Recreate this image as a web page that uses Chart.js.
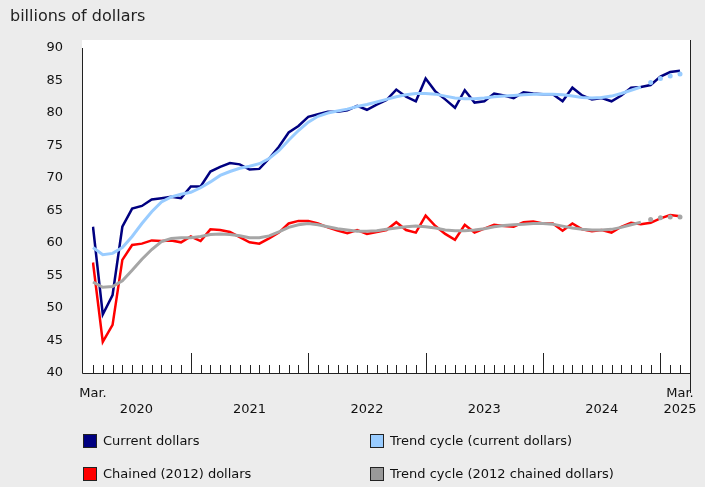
<!DOCTYPE html>
<html><head><meta charset="utf-8">
<script src="https://cdn.jsdelivr.net/npm/chart.js@4"></script>
<style>
html,body{margin:0;padding:0;background:#ececec;font-family:Verdana,"DejaVu Sans",sans-serif;}
#wrap{position:relative;width:705px;height:487px;}
canvas{position:absolute;left:0;top:0;}
.title{position:absolute;left:10px;top:6px;font-size:16px;color:#222;}
.lg{position:absolute;font-size:13px;color:#111;display:flex;align-items:center;}
.lg span.sw{display:inline-block;width:12px;height:12px;border:1px solid #222;margin-right:6px;}
</style></head><body>
<div id="wrap">
<canvas id="c" width="705" height="487"></canvas>
<div class="title">billions of dollars</div>
<div class="lg" style="left:83px;top:433px"><span class="sw" style="background:#000080"></span>Current dollars</div>
<div class="lg" style="left:370px;top:433px"><span class="sw" style="background:#99ccff"></span>Trend cycle (current dollars)</div>
<div class="lg" style="left:83px;top:466px"><span class="sw" style="background:#ff0000"></span>Chained (2012) dollars</div>
<div class="lg" style="left:370px;top:466px"><span class="sw" style="background:#999999"></span>Trend cycle (2012 chained dollars)</div>
</div>
<script>
const months = [];
for (let i = 0; i < 61; i++) { const m = (2 + i) % 12, y = 2020 + Math.floor((2 + i) / 12); months.push(y + '-' + String(m + 1).padStart(2, '0')); }
const yearLabels = ['2020','2021','2022','2023','2024','2025'];
const yTicks = [40,45,50,55,60,65,70,75,80,85,90];
const currentDollars = [62.5,49,52,62.5,65.3,65.7,66.7,66.9,67.1,66.9,68.7,68.7,71.0,71.7,72.3,72.1,71.3,71.4,73.0,74.8,77.0,78.0,79.4,79.8,80.2,80.2,80.4,81.1,80.5,81.3,82.0,83.6,82.5,81.8,85.3,83.3,82.1,80.8,83.5,81.6,81.8,83.0,82.7,82.3,83.2,83.0,82.9,82.9,81.8,83.9,82.7,82.1,82.3,81.8,82.7,83.9,84.0,84.3,85.6,86.3,86.5];
const trendCurrent = [59.3,58.2,58.4,59.3,61.0,63.0,64.8,66.3,67.1,67.5,67.8,68.5,69.4,70.4,71.0,71.5,71.8,72.2,73.0,74.2,75.8,77.3,78.6,79.5,80.0,80.3,80.6,81.0,81.3,81.7,82.1,82.5,82.8,83.0,83.0,82.9,82.6,82.3,82.2,82.2,82.3,82.5,82.6,82.7,82.8,82.9,82.9,82.9,82.8,82.6,82.4,82.3,82.4,82.6,83.0,83.5,84.0,null,null,null,null];
const trendCurrentProv = [null,null,null,null,null,null,null,null,null,null,null,null,null,null,null,null,null,null,null,null,null,null,null,null,null,null,null,null,null,null,null,null,null,null,null,null,null,null,null,null,null,null,null,null,null,null,null,null,null,null,null,null,null,null,null,null,null,84.7,85.3,85.7,86.0];
const chained = [57,44.8,47.4,57.4,59.7,59.9,60.4,60.3,60.4,60.1,61.0,60.3,62.1,62.0,61.7,60.9,60.1,59.9,60.7,61.6,63.0,63.4,63.4,63.0,62.4,61.9,61.5,62.0,61.4,61.7,62.0,63.2,62.0,61.6,64.2,62.6,61.4,60.5,62.8,61.6,62.2,62.8,62.6,62.5,63.2,63.3,63.0,63.0,61.9,63.0,62.1,61.8,62.0,61.6,62.5,63.1,62.9,63.1,63.8,64.3,64.1];
const trendChained = [54.0,53.2,53.3,54.2,55.8,57.5,59.0,60.2,60.7,60.8,60.8,61.0,61.3,61.4,61.3,61.1,60.8,60.8,61.1,61.7,62.4,62.8,63.0,62.8,62.5,62.2,62.0,61.8,61.8,61.9,62.1,62.3,62.5,62.6,62.5,62.3,62.0,61.9,61.9,62.0,62.2,62.5,62.7,62.8,62.9,63.0,63.0,62.9,62.6,62.3,62.1,62.0,62.0,62.1,62.4,62.8,63.2,null,null,null,null];
const trendChainedProv = [null,null,null,null,null,null,null,null,null,null,null,null,null,null,null,null,null,null,null,null,null,null,null,null,null,null,null,null,null,null,null,null,null,null,null,null,null,null,null,null,null,null,null,null,null,null,null,null,null,null,null,null,null,null,null,null,null,63.6,63.9,64.0,64.0];

const FONT = 'Verdana, "DejaVu Sans", sans-serif';
const deco = {
  id:'deco',
  beforeDraw(ch){
    const c=ch.ctx, a=ch.chartArea, L=a.left-11;
    c.save(); c.fillStyle='#fff'; c.fillRect(L,a.top-8,a.right+10-L,a.bottom-a.top+8);
    c.strokeStyle='#222'; c.lineWidth=1;
    c.beginPath(); c.moveTo(a.right+10.5,a.top-8); c.lineTo(a.right+10.5,a.bottom+20); c.stroke();
    c.restore();
  },
  afterDraw(ch){
    const c=ch.ctx, a=ch.chartArea, xs=ch.scales.x, L=a.left-11;
    c.save(); c.strokeStyle='#222'; c.lineWidth=1;
    c.beginPath(); c.moveTo(L+0.5,a.top); c.lineTo(L+0.5,a.bottom+0.5); c.lineTo(a.right+10,a.bottom+0.5); c.stroke();
    for(let i=0;i<months.length;i++){
      const x=Math.round(xs.getPixelForValue(i))+0.5;
      const jan = months[i].endsWith('-01');
      c.beginPath(); c.moveTo(x,a.bottom); c.lineTo(x,a.bottom-(jan?20:8)); c.stroke();
    }
    c.fillStyle='#111'; c.font='13px '+FONT; c.textAlign='center'; c.textBaseline='top';
    const first=xs.getPixelForValue(0), last=xs.getPixelForValue(60);
    c.fillText('Mar.',first,a.bottom+14);
    c.fillText('Mar.',last,a.bottom+14);
    const starts=[0,10,22,34,46,58];
    for(let k=0;k<5;k++){
      const x0=k==0?L:xs.getPixelForValue(starts[k]);
      const x1=xs.getPixelForValue(starts[k+1]);
      c.fillText(yearLabels[k],(x0+x1)/2,a.bottom+30);
    }
    c.fillText(yearLabels[5],last,a.bottom+30);
    c.restore();
  }
};
const line=(label,data,color,w)=>({label,data,borderColor:color,backgroundColor:color,borderWidth:w,pointRadius:0,tension:0,fill:false});
new Chart(document.getElementById('c'),{
  type:'line',
  data:{labels:months,datasets:[
    line('Trend cycle (2012 chained dollars)',trendChained,'#a6a6a6',3),
    {...line('tcp',trendChainedProv,'#a6a6a6',0),showLine:false,pointRadius:2.5,pointBorderWidth:0},
    line('Chained (2012) dollars',chained,'#ff0000',2.5),
    line('Trend cycle (current dollars)',trendCurrent,'#99ccff',3),
    {...line('tcc',trendCurrentProv,'#99ccff',0),showLine:false,pointRadius:2.5,pointBorderWidth:0},
    line('Current dollars',currentDollars,'#000080',2.5)
  ]},
  plugins:[deco],
  options:{
    responsive:false,animation:false,
    layout:{padding:{left:10,right:25,top:48,bottom:114}},
    plugins:{legend:{display:false},tooltip:{enabled:false}},
    scales:{
      x:{offset:false,grid:{display:false},border:{display:false},ticks:{display:false},afterFit(s){s.height=0;}},
      y:{min:40,max:90,afterBuildTicks(s){s.ticks=yTicks.map(v=>({value:v}));},
         grid:{display:false},border:{display:false},
         ticks:{color:'#111',font:{size:13,family:FONT},padding:22},afterFit(s){s.width=83;}}
    }
  }
});
</script>
</body></html>
